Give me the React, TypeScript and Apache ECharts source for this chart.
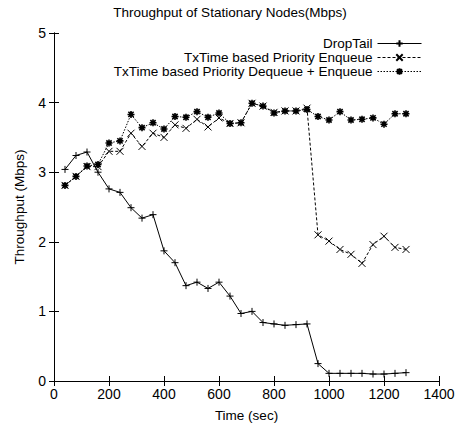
import React, { useEffect, useRef } from "react";
import * as echarts from "echarts";

const times = [40, 80, 120, 160, 200, 240, 280, 320, 360, 400, 440, 480, 520, 560, 600, 640, 680, 720, 760, 800, 840, 880, 920, 960, 1000, 1040, 1080, 1120, 1160, 1200, 1240, 1280];
const dropTail = [3.04, 3.24, 3.29, 3.0, 2.76, 2.71, 2.49, 2.34, 2.39, 1.87, 1.7, 1.37, 1.42, 1.33, 1.42, 1.22, 0.97, 1.0, 0.84, 0.82, 0.8, 0.81, 0.82, 0.25, 0.11, 0.11, 0.11, 0.11, 0.1, 0.1, 0.11, 0.12];
const enqueue = [2.81, 2.94, 3.08, 3.08, 3.3, 3.3, 3.56, 3.37, 3.56, 3.5, 3.68, 3.63, 3.76, 3.65, 3.78, 3.7, 3.71, 3.99, 3.95, 3.86, 3.88, 3.88, 3.92, 2.1, 2.01, 1.89, 1.82, 1.69, 1.96, 2.08, 1.92, 1.89];
const dequeue = [2.81, 2.94, 3.09, 3.11, 3.42, 3.45, 3.83, 3.64, 3.71, 3.62, 3.8, 3.79, 3.87, 3.79, 3.85, 3.7, 3.71, 3.99, 3.95, 3.85, 3.88, 3.88, 3.9, 3.8, 3.75, 3.87, 3.75, 3.76, 3.78, 3.69, 3.84, 3.84];
const seriesNames = ["DropTail", "TxTime based Priority Enqueue", "TxTime based Priority Dequeue + Enqueue"];

const FONT = "Liberation Sans, Arial, sans-serif";
const PLUS = "path://M0,-1L0,1M-1,0L1,0";
const CROSS = "path://M-1,-1L1,1M-1,1L1,-1";
const STAR = "path://M0,-1L0,1M-1,0L1,0M-0.75,-0.75L0.75,0.75M-0.75,0.75L0.75,-0.75";

export default function App() {
  const ref = useRef<HTMLDivElement>(null);
  useEffect(() => {
    const chart = echarts.init(ref.current!, null, { renderer: "svg" });
    const pair = (vals: number[]) => times.map((t, i) => [t, vals[i]]);
    const axisCommon = {
      axisLine: { show: true, lineStyle: { color: "#000", width: 1 } },
      axisTick: { show: true, inside: true, length: 5, lineStyle: { color: "#000" } },
      splitLine: { show: false },
    };
    const mkLegend = (name: string, top: number) => ({
      data: [name],
      right: 38,
      top,
      align: "right" as const,
      itemWidth: 44,
      itemHeight: 8,
      itemGap: 0,
      padding: 0,
      lineStyle: { width: 1 },
      textStyle: { fontFamily: FONT, fontSize: 13.5, lineHeight: 13, color: "#000", padding: [0, 0, 0, 0] },
    });
    chart.setOption({
      animation: false,
      backgroundColor: "#fff",
      title: {
        text: "Throughput of Stationary Nodes(Mbps)",
        left: "center",
        top: 5,
        padding: 0,
        textStyle: { fontFamily: FONT, fontSize: 13.5, fontWeight: "normal", color: "#000" },
      },
      legend: [mkLegend(seriesNames[0], 36.5), mkLegend(seriesNames[1], 50.5), mkLegend(seriesNames[2], 64.5)],
      grid: { left: 54, right: 21, top: 33, bottom: 47, show: false },
      xAxis: [
        {
          type: "value",
          min: 0,
          max: 1400,
          interval: 200,
          name: "Time (sec)",
          nameLocation: "middle",
          nameGap: 27,
          nameTextStyle: { fontFamily: FONT, fontSize: 13.5, color: "#000" },
          axisLabel: { fontFamily: FONT, fontSize: 14, color: "#000", margin: 6, formatter: (v: number) => String(v) },
          ...axisCommon,
        },
        {
          type: "value",
          position: "top",
          min: 0,
          max: 1400,
          interval: 200,
          axisLabel: { show: false },
          ...axisCommon,
        },
      ],
      yAxis: [
        {
          type: "value",
          min: 0,
          max: 5,
          interval: 1,
          name: "Throughput (Mbps)",
          nameLocation: "middle",
          nameGap: 28,
          nameTextStyle: { fontFamily: FONT, fontSize: 13.5, color: "#000" },
          axisLabel: { fontFamily: FONT, fontSize: 14, color: "#000", margin: 8, formatter: (v: number) => String(v) },
          ...axisCommon,
        },
        {
          type: "value",
          position: "right",
          min: 0,
          max: 5,
          interval: 1,
          axisLabel: { show: false },
          ...axisCommon,
        },
      ],
      series: [
        {
          name: seriesNames[0],
          type: "line",
          data: pair(dropTail),
          symbol: PLUS,
          symbolSize: 7,
          color: "#000",
          lineStyle: { color: "#000", width: 1, type: "solid" },
          itemStyle: { color: "#000", borderColor: "#000", borderWidth: 1 },
        },
        {
          name: seriesNames[1],
          type: "line",
          data: pair(enqueue),
          symbol: CROSS,
          symbolSize: 7,
          color: "#000",
          lineStyle: { color: "#000", width: 1, type: [3, 2] },
          itemStyle: { color: "#000", borderColor: "#000", borderWidth: 1 },
        },
        {
          name: seriesNames[2],
          type: "line",
          data: pair(dequeue),
          symbol: STAR,
          symbolSize: 7,
          color: "#000",
          lineStyle: { color: "#000", width: 1, type: [1.5, 1.5] },
          itemStyle: { color: "#000", borderColor: "#000", borderWidth: 1.6 },
        },
      ],
    });
    return () => chart.dispose();
  }, []);
  return <div ref={ref} style={{ width: 460, height: 428, position: "absolute", left: 0, top: 0 }} />;
}
